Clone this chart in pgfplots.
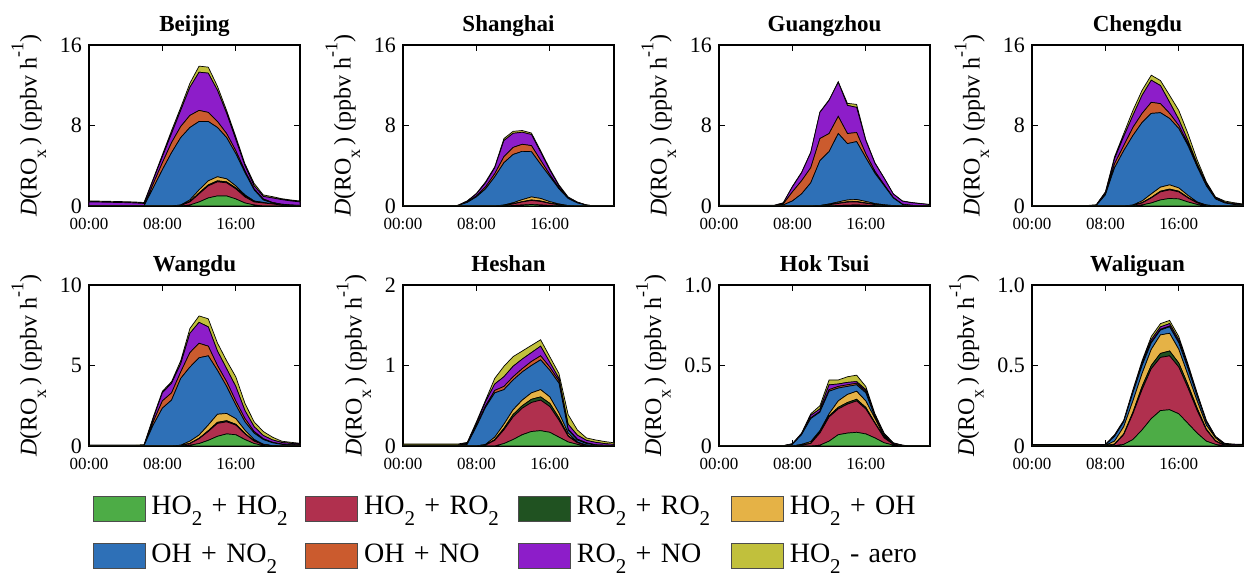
\documentclass[border=0pt]{standalone}
\usepackage{fontspec}
\setmainfont{Liberation Serif}
\usepackage{graphicx}
\usepackage{pgfplots}
\pgfplotsset{compat=1.18}
\usepackage{pgfplotstable}

\definecolor{cG}{RGB}{77,172,70}
\definecolor{cR}{RGB}{176,48,78}
\definecolor{cD}{RGB}{32,82,33}
\definecolor{cY}{RGB}{229,178,70}
\definecolor{cB}{RGB}{46,112,183}
\definecolor{cO}{RGB}{203,91,46}
\definecolor{cP}{RGB}{141,29,201}
\definecolor{cA}{RGB}{193,192,60}

\newcommand{\sub}[1]{\raisebox{-0.4em}{\scalebox{0.75}{#1}}}
\newcommand{\sups}[1]{\raisebox{0.55em}{\scalebox{0.75}{#1}}}

% columns: hour, HO2+HO2, HO2+RO2, RO2+RO2, HO2+OH, OH+NO2, OH+NO, RO2+NO, HO2-aero
\pgfplotstableread{
h G R D Y B O P A
0 0 0 0 0 0 0 0.40 0.10
1 0 0 0 0 0 0 0.39 0.10
2 0 0 0 0 0 0 0.37 0.10
3 0 0 0 0 0 0 0.35 0.10
4 0 0 0 0 0 0 0.33 0.10
5 0 0 0 0 0 0 0.30 0.10
6 0 0 0 0 0 0 0.25 0.10
7 0 0 0 0 1.8 0.4 0.4 0.1
8 0 0 0 0 3.6 0.7 0.6 0.2
9 0 0 0 0 5.3 1.0 0.9 0.3
10 0 0.05 0 0.05 6.7 1.1 1.6 0.3
11 0.1 0.3 0.05 0.15 7.2 1.2 2.8 0.4
12 0.4 0.8 0.1 0.3 6.8 1.1 3.8 0.6
13 0.8 1.2 0.1 0.4 5.9 0.9 3.9 0.6
14 1.0 1.4 0.1 0.4 4.9 0.6 3.1 0.4
15 1.0 1.3 0.1 0.3 4.1 0.4 2.0 0.3
16 0.7 1.0 0.1 0.2 3.2 0.3 1.1 0.3
17 0.3 0.6 0.1 0.1 2.2 0.2 0.5 0.2
18 0.1 0.3 0.05 0.05 1.1 0.1 0.3 0.25
19 0 0.3 0 0.05 0.25 0.1 0.25 0.15
20 0 0.2 0 0 0.1 0.05 0.45 0.13
21 0 0.1 0 0 0.05 0.03 0.45 0.1
22 0 0.05 0 0 0.03 0.02 0.4 0.1
23 0 0.03 0 0 0.02 0.01 0.35 0.09
}\tBeijing

\pgfplotstableread{
h G R D Y B O P A
0 0 0 0 0 0 0 0 0
1 0 0 0 0 0 0 0 0
2 0 0 0 0 0 0 0 0
3 0 0 0 0 0 0 0 0
4 0 0 0 0 0 0 0 0
5 0 0 0 0 0 0 0 0
6 0 0 0 0 0.05 0 0.02 0
7 0 0 0 0 0.35 0.05 0.1 0
8 0 0 0 0 0.9 0.1 0.2 0.05
9 0 0 0 0 1.7 0.2 0.4 0.1
10 0 0 0 0 2.9 0.3 0.6 0.1
11 0 0.05 0 0.05 4.2 0.6 1.6 0.2
12 0.05 0.15 0.02 0.1 4.8 0.7 1.4 0.2
13 0.1 0.3 0.03 0.2 4.8 0.7 1.2 0.17
14 0.15 0.4 0.05 0.3 4.5 0.6 1.1 0.15
15 0.1 0.35 0.05 0.25 3.4 0.4 0.8 0.15
16 0.05 0.2 0.03 0.15 2.5 0.2 0.45 0.12
17 0.02 0.1 0.01 0.07 1.5 0.1 0.2 0.1
18 0 0.02 0 0.02 0.7 0.05 0.06 0.05
19 0 0 0 0 0.3 0.03 0.04 0.03
20 0 0 0 0 0.08 0.01 0.01 0
21 0 0 0 0 0 0 0 0
22 0 0 0 0 0 0 0 0
23 0 0 0 0 0 0 0 0
}\tShanghai

\pgfplotstableread{
h G R D Y B O P A
0 0 0 0 0 0 0 0.05 0.02
1 0 0 0 0 0 0 0.05 0.02
2 0 0 0 0 0 0 0.05 0.02
3 0 0 0 0 0 0 0.05 0.02
4 0 0 0 0 0 0 0.05 0.02
5 0 0 0 0 0 0 0.05 0.02
6 0 0 0 0 0 0 0.05 0.02
7 0 0 0 0 0.1 0.1 0.1 0.02
8 0 0 0 0 0.5 0.9 0.5 0.05
9 0 0 0 0 1.2 1.3 0.8 0.05
10 0 0 0 0 2.3 1.5 1.5 0.05
11 0 0.03 0 0.02 4.45 2.2 2.6 0.05
12 0.02 0.1 0.02 0.06 5.2 1.8 3.3 0.05
13 0.05 0.2 0.03 0.12 6.8 1.7 3.4 0.05
14 0.08 0.3 0.04 0.18 5.6 1.0 2.8 0.2
15 0.1 0.3 0.05 0.2 5.75 0.9 2.5 0.3
16 0.07 0.2 0.03 0.15 4.35 0.4 1.3 0.1
17 0.04 0.1 0.02 0.08 3.0 0.2 0.8 0.06
18 0.02 0.05 0.01 0.04 1.9 0.1 0.65 0.03
19 0 0.02 0 0.02 0.75 0.05 0.35 0.02
20 0 0 0 0 0.15 0.03 0.3 0.02
21 0 0 0 0 0.05 0.02 0.25 0.03
22 0 0 0 0 0.02 0.01 0.2 0.02
23 0 0 0 0 0.01 0.01 0.12 0.01
}\tGuangzhou

\pgfplotstableread{
h G R D Y B O P A
0 0 0 0 0 0 0 0.03 0.02
1 0 0 0 0 0 0 0.03 0.02
2 0 0 0 0 0 0 0.03 0.02
3 0 0 0 0 0 0 0.03 0.02
4 0 0 0 0 0 0 0.03 0.02
5 0 0 0 0 0 0 0.03 0.02
6 0 0 0 0 0 0 0.03 0.02
7 0 0 0 0 0.05 0.02 0.03 0.02
8 0 0 0 0 1.1 0.1 0.15 0.05
9 0 0 0 0 3.8 0.4 0.5 0.2
10 0 0 0 0 5.5 0.5 0.9 0.3
11 0 0.05 0 0.05 6.9 0.8 1.2 0.5
12 0.1 0.2 0.03 0.17 7.8 0.9 1.8 0.5
13 0.3 0.5 0.05 0.35 8.0 1.1 2.2 0.5
14 0.6 0.8 0.07 0.4 7.4 0.9 1.8 0.5
15 0.75 0.85 0.08 0.42 6.6 0.5 1.1 0.7
16 0.7 0.7 0.07 0.33 5.9 0.3 0.6 0.9
17 0.4 0.4 0.05 0.2 4.95 0.2 0.3 0.7
18 0.15 0.15 0.02 0.08 3.5 0.1 0.2 0.4
19 0.03 0.04 0.01 0.02 1.9 0.1 0.1 0.2
20 0 0.01 0 0 0.69 0.05 0.05 0.1
21 0 0 0 0 0.3 0.02 0.05 0.13
22 0 0 0 0 0.15 0.02 0.05 0.11
23 0 0 0 0 0.1 0.01 0.04 0.05
}\tChengdu

\pgfplotstableread{
h G R D Y B O P A
0 0 0 0 0 0 0 0.03 0.03
1 0 0 0 0 0 0 0.03 0.03
2 0 0 0 0 0 0 0.03 0.03
3 0 0 0 0 0 0 0.03 0.03
4 0 0 0 0 0 0 0.03 0.03
5 0 0 0 0 0 0 0.03 0.03
6 0 0 0 0 0.02 0 0.03 0.03
7 0 0 0 0 1.3 0.2 0.2 0.1
8 0 0 0 0 2.35 0.45 0.5 0.1
9 0 0 0 0 2.85 0.45 0.6 0.1
10 0 0.02 0 0.03 4.15 0.4 0.5 0.2
11 0.05 0.1 0.02 0.13 4.6 0.9 1.2 0.3
12 0.15 0.3 0.03 0.2 4.8 0.9 1.3 0.4
13 0.35 0.55 0.05 0.35 4.3 0.6 1.2 0.5
14 0.6 0.8 0.07 0.5 2.73 0.3 0.9 0.5
15 0.75 0.75 0.07 0.45 1.68 0.3 0.8 0.5
16 0.7 0.6 0.05 0.35 0.85 0.25 0.9 0.6
17 0.4 0.35 0.03 0.2 0.52 0.2 0.5 0.45
18 0.15 0.15 0.02 0.08 0.4 0.1 0.3 0.3
19 0.03 0.05 0.01 0.02 0.29 0.05 0.2 0.25
20 0 0.02 0 0 0.18 0.03 0.15 0.17
21 0 0 0 0 0.1 0.02 0.1 0.08
22 0 0 0 0 0.07 0.01 0.08 0.07
23 0 0 0 0 0.05 0.01 0.06 0.05
}\tWangdu

\pgfplotstableread{
h G R D Y B O P A
0 0 0 0 0 0 0 0.01 0.015
1 0 0 0 0 0 0 0.01 0.015
2 0 0 0 0 0 0 0.01 0.015
3 0 0 0 0 0 0 0.01 0.015
4 0 0 0 0 0 0 0.01 0.015
5 0 0 0 0 0 0 0.01 0.015
6 0 0 0 0 0 0 0.01 0.015
7 0 0 0 0 0.02 0.005 0.01 0.01
8 0 0 0 0 0.24 0.01 0.03 0.02
9 0 0.01 0 0.01 0.46 0.02 0.05 0.02
10 0 0.07 0.01 0.03 0.55 0.03 0.08 0.07
11 0.03 0.17 0.02 0.05 0.43 0.04 0.12 0.13
12 0.08 0.28 0.03 0.06 0.37 0.04 0.13 0.12
13 0.14 0.33 0.03 0.07 0.35 0.04 0.12 0.10
14 0.18 0.36 0.04 0.08 0.34 0.05 0.11 0.09
15 0.19 0.38 0.04 0.09 0.37 0.05 0.12 0.08
16 0.17 0.32 0.04 0.08 0.33 0.04 0.06 0.07
17 0.11 0.21 0.03 0.06 0.37 0.03 0.03 0.06
18 0.05 0.07 0.01 0.03 0.04 0.01 0.06 0.12
19 0.02 0.02 0 0.01 0.025 0.01 0.05 0.065
20 0 0.01 0 0 0.02 0.01 0.03 0.03
21 0 0 0 0 0.01 0.005 0.03 0.03
22 0 0 0 0 0.005 0.005 0.02 0.025
23 0 0 0 0 0.005 0 0.015 0.02
}\tHeshan

\pgfplotstableread{
h G R D Y B O P A
0 0 0 0 0 0 0 0 0
1 0 0 0 0 0 0 0 0
2 0 0 0 0 0 0 0 0
3 0 0 0 0 0 0 0 0
4 0 0 0 0 0 0 0 0
5 0 0 0 0 0 0 0 0
6 0 0 0 0 0 0 0 0
7 0 0 0 0 0.002 0 0 0
8 0 0 0 0 0.01 0 0.003 0.002
9 0 0.005 0 0.005 0.06 0.002 0.005 0.003
10 0 0.015 0.002 0.01 0.143 0.005 0.015 0.01
11 0.005 0.075 0.005 0.01 0.115 0.005 0.015 0.02
12 0.03 0.15 0.007 0.013 0.14 0.01 0.03 0.03
13 0.07 0.16 0.01 0.04 0.08 0.01 0.015 0.025
14 0.08 0.18 0.01 0.05 0.05 0.01 0.015 0.035
15 0.085 0.195 0.01 0.05 0.04 0.01 0.01 0.04
16 0.075 0.155 0.01 0.04 0.05 0.01 0.01 0.02
17 0.05 0.09 0.005 0.025 0.01 0.005 0.005 0.01
18 0.02 0.03 0.003 0.007 0.01 0.002 0.003 0.005
19 0.005 0.005 0 0.002 0.003 0.001 0.002 0.002
20 0 0.002 0 0 0.002 0 0.001 0
21 0 0 0 0 0 0 0 0
22 0 0 0 0 0 0 0 0
23 0 0 0 0 0 0 0 0
}\tHokTsui

\pgfplotstableread{
h G R D Y B O P A
0 0 0 0 0 0 0 0.005 0.005
1 0 0 0 0 0 0 0.005 0.005
2 0 0 0 0 0 0 0.005 0.005
3 0 0 0 0 0 0 0.005 0.005
4 0 0 0 0 0 0 0.005 0.005
5 0 0 0 0 0 0 0.005 0.005
6 0 0 0 0 0 0 0.005 0.005
7 0 0 0 0 0 0 0.005 0.005
8 0 0.002 0 0.002 0.003 0 0.001 0.002
9 0.002 0.008 0.002 0.018 0.03 0.002 0.004 0.004
10 0.01 0.06 0.005 0.045 0.03 0.002 0.004 0.004
11 0.04 0.16 0.01 0.07 0.05 0.003 0.007 0.01
12 0.1 0.25 0.02 0.08 0.05 0.003 0.012 0.015
13 0.17 0.31 0.02 0.1 0.04 0.005 0.015 0.02
14 0.22 0.33 0.025 0.115 0.03 0.005 0.015 0.02
15 0.225 0.335 0.03 0.11 0.04 0.005 0.015 0.02
16 0.2 0.29 0.025 0.085 0.04 0.005 0.015 0.02
17 0.14 0.22 0.02 0.06 0.04 0.005 0.01 0.015
18 0.08 0.14 0.015 0.045 0.03 0.003 0.007 0.01
19 0.03 0.07 0.005 0.025 0.02 0.002 0.003 0.005
20 0.01 0.02 0.003 0.017 0.005 0.001 0.002 0.002
21 0 0.002 0 0.003 0.002 0 0.005 0.005
22 0 0 0 0 0.002 0 0.005 0.005
23 0 0 0 0 0 0 0.005 0.005
}\tWaliguan

\newcommand{\stackall}[1]{%
  \addplot[fill=cG] table[x=h,y=G]{#1} \closedcycle;
  \addplot[fill=cR] table[x=h,y=R]{#1} \closedcycle;
  \addplot[fill=cD] table[x=h,y=D]{#1} \closedcycle;
  \addplot[fill=cY] table[x=h,y=Y]{#1} \closedcycle;
  \addplot[fill=cB] table[x=h,y=B]{#1} \closedcycle;
  \addplot[fill=cO] table[x=h,y=O]{#1} \closedcycle;
  \addplot[fill=cP] table[x=h,y=P]{#1} \closedcycle;
  \addplot[fill=cA] table[x=h,y=A]{#1} \closedcycle;
}

\pgfplotsset{
  panel/.style={
    scale only axis, width=105.5pt, height=80.5pt,
    anchor=north west,
    xmin=0, xmax=23, ymin=0,
    xtick={0,8,16}, xticklabels={00:00,08:00,16:00},
    stack plots=y,
    every axis plot/.append style={draw=black, line width=0.35pt, no markers},
    axis line style={line width=0.7pt},
    tick style={black, line width=0.5pt},
    major tick length=3pt,
    tick align=inside,
    /pgf/number format/assume math mode=true,
    yticklabel style={font=\fontsize{11}{12}\selectfont},
    xticklabel style={font=\fontsize{8.5}{10}\selectfont, yshift=-2.5pt},
    title style={font=\bfseries\fontsize{11.5}{13}\selectfont, text depth=2.5pt, inner sep=3pt, yshift=-5pt},
    ylabel={\textit{D}(RO\sub{x}\,) (ppbv h\sups{-1})},
    ylabel style={font=\fontsize{12}{13}\selectfont},
  },
}

\begin{document}
\begin{tikzpicture}
\path (0,0) rectangle (622pt,-288.5pt);

\begin{axis}[panel, at={(44.5pt,-22.5pt)}, ymax=16, ytick={0,8,16}, title={Beijing}]
\stackall{\tBeijing}
\end{axis}
\begin{axis}[panel, at={(201.5pt,-22.5pt)}, ymax=16, ytick={0,8,16}, title={Shanghai}]
\stackall{\tShanghai}
\end{axis}
\begin{axis}[panel, at={(359.5pt,-22.5pt)}, ymax=16, ytick={0,8,16}, title={Guangzhou}]
\stackall{\tGuangzhou}
\end{axis}
\begin{axis}[panel, at={(516pt,-22.5pt)}, ymax=16, ytick={0,8,16}, title={Chengdu}]
\stackall{\tChengdu}
\end{axis}

\begin{axis}[panel, at={(44.5pt,-142.5pt)}, ymax=10, ytick={0,5,10}, title={Wangdu}]
\stackall{\tWangdu}
\end{axis}
\begin{axis}[panel, at={(201.5pt,-142.5pt)}, ymax=2, ytick={0,1,2}, title={Heshan}]
\stackall{\tHeshan}
\end{axis}
\begin{axis}[panel, at={(359.5pt,-142.5pt)}, ymax=1, ytick={0,0.5,1}, yticklabels={0,0.5,1.0}, title={Hok Tsui}]
\stackall{\tHokTsui}
\end{axis}
\begin{axis}[panel, at={(516pt,-142.5pt)}, ymax=1, ytick={0,0.5,1}, yticklabels={0,0.5,1.0}, title={Waliguan}]
\stackall{\tWaliguan}
\end{axis}

% legend only
\begin{axis}[hide axis, scale only axis, width=1pt, height=1pt,
  xmin=0, xmax=1, ymin=0, ymax=1,
  at={(46.3pt,-266.2pt)}, anchor=west,
  legend columns=4, legend cell align=left,
  legend image code/.code={\draw[#1, line width=0.4pt] (0pt,-6.25pt) rectangle (26pt,6.25pt);},
  legend style={at={(0,0.5)}, anchor=west, draw=none, fill=none,
    inner sep=0pt, outer sep=0pt, row sep=10pt,
    font=\fontsize{14}{16}\selectfont,
    nodes={text width=74pt, inner xsep=3pt, inner ysep=0pt, text height=10pt, text depth=4pt}}]
\addlegendimage{fill=cG, draw=black!70}
\addlegendimage{fill=cR, draw=black!70}
\addlegendimage{fill=cD, draw=black!70}
\addlegendimage{fill=cY, draw=black!70}
\addlegendimage{fill=cB, draw=black!70}
\addlegendimage{fill=cO, draw=black!70}
\addlegendimage{fill=cP, draw=black!70}
\addlegendimage{fill=cA, draw=black!70}
\legend{HO\sub{2} + HO\sub{2}, HO\sub{2} + RO\sub{2}, RO\sub{2} + RO\sub{2}, HO\sub{2} + OH,
  OH + NO\sub{2}, OH + NO, RO\sub{2} + NO, HO\sub{2} - aero}
\end{axis}
\end{tikzpicture}
\end{document}
